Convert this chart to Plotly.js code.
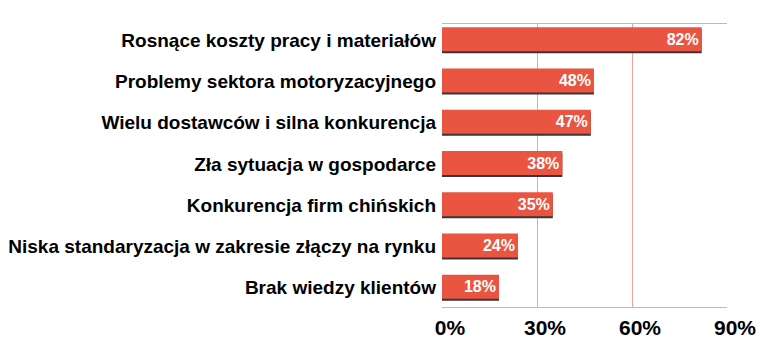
<!DOCTYPE html>
<html>
<head>
<meta charset="utf-8">
<script src="https://cdn.plot.ly/plotly-3.0.1.min.js"></script>
<style>html,body{margin:0;padding:0;background:#fff;}#chart{width:764px;height:359px;}</style>
</head>
<body>
<div id="chart"></div>
<script>
const categories = [
  "Rosnące koszty pracy i materiałów",
  "Problemy sektora motoryzacyjnego",
  "Wielu dostawców i silna konkurencja",
  "Zła sytuacja w gospodarce",
  "Konkurencja firm chińskich",
  "Niska standaryzacja w zakresie złączy na rynku",
  "Brak wiedzy klientów"
];
const values = [82, 48, 47, 38, 35, 24, 18];
const tickValues = [0, 30, 60, 90];
const tickLabels = ["0%", "30%", "60%", "90%"];

const font = "Liberation Sans, Arial, sans-serif";
const labels = values.map(v => v + "%");

const shadow = {
  type: "bar", orientation: "h",
  x: values, y: categories,
  width: 0.58, offset: -0.26,
  marker: {color: "#3b3535"},
  hoverinfo: "skip", showlegend: false
};
const main = {
  type: "bar", orientation: "h",
  x: values, y: categories,
  width: 0.58, offset: -0.31,
  marker: {color: "#ea5542", line: {width: 0}},
  text: labels, textposition: "inside", insidetextanchor: "end",
  textfont: {family: font, size: 16, color: "#ffffff", weight: "bold"},
  hoverinfo: "x+y", showlegend: false
};

const layout = {
  width: 764, height: 359,
  margin: {l: 442, r: 37, t: 24, b: 52},
  paper_bgcolor: "#ffffff", plot_bgcolor: "#ffffff",
  barmode: "overlay",
  font: {family: font, color: "#000"},
  xaxis: {
    range: [0, 90], tickvals: tickValues, ticktext: tickLabels,
    showgrid: true, gridcolor: "#f2a49b", gridwidth: 1,
    showline: true, linecolor: "#f2a49b", linewidth: 1, mirror: true,
    zeroline: false, ticks: "",
    tickfont: {family: font, size: 21, color: "#000", weight: "bold"},
    ticklabelshift: 8, ticklabelstandoff: 2
  },
  yaxis: {
    type: "category", categoryorder: "array", categoryarray: categories,
    range: [6.47, -0.39],
    showgrid: false, showline: false, zeroline: false, ticks: "",
    tickfont: {family: font, size: 19, color: "#000", weight: "bold"},
    ticklabelstandoff: 5
  }
};

Plotly.newPlot("chart", [shadow, main], layout, {displayModeBar: false, staticPlot: true});
</script>
</body>
</html>
